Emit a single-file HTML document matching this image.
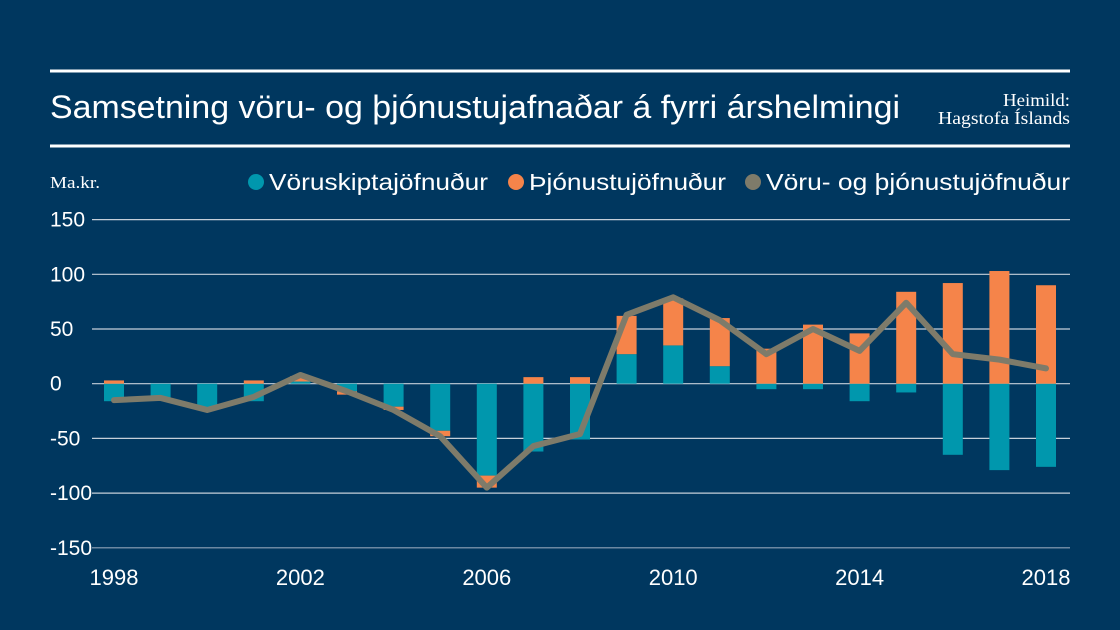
<!DOCTYPE html>
<html><head><meta charset="utf-8"><style>
body{margin:0;background:#00375f;}
svg{display:block;font-family:"Liberation Sans",sans-serif;}
</style></head><body>
<svg id="c" width="1120" height="630">
<rect width="1120" height="630" fill="#00375f"/>
<line x1="50" y1="71" x2="1070" y2="71" stroke="#fff" stroke-width="3"/>
<line x1="50" y1="146" x2="1070" y2="146" stroke="#fff" stroke-width="3"/>
<text x="50" y="118" fill="#fff" font-size="32" textLength="850" lengthAdjust="spacingAndGlyphs">Samsetning vöru- og þjónustujafnaðar á fyrri árshelmingi</text>
<text x="1070" y="106" fill="#fff" font-size="18" text-anchor="end" textLength="67" lengthAdjust="spacingAndGlyphs" font-family="Liberation Serif, serif">Heimild:</text>
<text x="1070" y="124" fill="#fff" font-size="18" text-anchor="end" textLength="132" lengthAdjust="spacingAndGlyphs" font-family="Liberation Serif, serif">Hagstofa Íslands</text>
<text x="50" y="188" fill="#fff" font-size="17" textLength="50" lengthAdjust="spacingAndGlyphs" font-family="Liberation Serif, serif">Ma.kr.</text>
<g>
<circle cx="256" cy="182" r="8" fill="#0097ad"/>
<text x="269" y="190" fill="#fff" font-size="23" textLength="219" lengthAdjust="spacingAndGlyphs">Vöruskiptajöfnuður</text>
<circle cx="516" cy="182" r="8" fill="#f5844a"/>
<text x="529" y="190" fill="#fff" font-size="23" textLength="197" lengthAdjust="spacingAndGlyphs">Þjónustujöfnuður</text>
<circle cx="753" cy="182" r="8" fill="#7e7b6a"/>
<text x="766" y="190" fill="#fff" font-size="23" textLength="304" lengthAdjust="spacingAndGlyphs">Vöru- og þjónustujöfnuður</text>
</g>
<g id="grid"></g><g id="bars"></g><g id="line"></g><g id="xl"></g>
</svg>
<script>
const years=[1998,1999,2000,2001,2002,2003,2004,2005,2006,2007,2008,2009,2010,2011,2012,2013,2014,2015,2016,2017,2018];
const goods=[-16,-13,-23,-16,2,-7,-21,-43,-84,-62,-51,27,35,16,-5,-5,-16,-8,-65,-79,-76];
const services=[3,0,0,3,5,-3,-3,-5,-11,6,6,35,43,44,32,54,46,84,92,103,90];
const total=[-15,-13,-24,-12,8,-7,-24,-48,-95,-57,-46,63,79,58,27,50,30,74,27,22,14];
const yTicks=[150,100,50,0,-50,-100,-150];
const xTicks=[1998,2002,2006,2010,2014,2018];
const NS='http://www.w3.org/2000/svg';
const y=v=>383.7-v*1.094;
const x=yr=>114+(yr-1998)*46.6;
function mk(t,a,p){const e=document.createElementNS(NS,t);for(const k in a)e.setAttribute(k,a[k]);p.appendChild(e);return e;}
const g=document.getElementById('grid');
yTicks.forEach(v=>{
 const l=mk('line',{x1:92,x2:1070,y1:y(v),y2:y(v),stroke:v===-150?'#8fa3b8':'#c5cfd9','stroke-width':1.2},g);
 
 
 const t=mk('text',{x:50,y:y(v)+7,fill:'#fff','font-size':21},g);t.textContent=v;
 
 
});
const b=document.getElementById('bars');
function bar(x0,v0,v1,col){const top=Math.min(y(v0),y(v1)),h=Math.abs(y(v0)-y(v1));
 const r=mk('rect',{x:x0-10,y:top,width:20,height:h,fill:col},b);return r;}
years.forEach((yr,i)=>{
 const gv=goods[i],sv=services[i];
 const r1=bar(x(yr),0,gv,'#0097ad');
 
 
 const base=(Math.sign(sv)===Math.sign(gv))?gv:0;
 const r2=bar(x(yr),base,base+sv,'#f5844a');
 
 
});
const p=mk('polyline',{points:years.map((yr,i)=>x(yr)+','+y(total[i])).join(' '),fill:'none',stroke:'#7e7b6a','stroke-width':6,'stroke-linejoin':'round','stroke-linecap':'round'},document.getElementById('line'));


const xl=document.getElementById('xl');
xTicks.forEach(yr=>{const t=mk('text',{x:x(yr),y:585,fill:'#fff','font-size':22,'text-anchor':'middle'},xl);t.textContent=yr;
 
 });
</script>
</body></html>
